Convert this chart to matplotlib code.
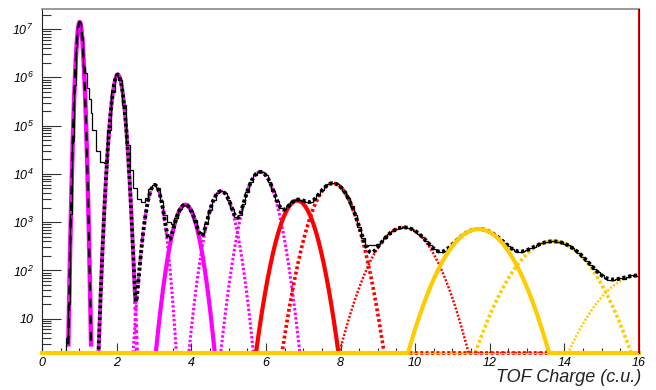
import numpy as np
import matplotlib.pyplot as plt
from matplotlib.ticker import LogLocator, FixedLocator, MultipleLocator, NullFormatter

plt.rcParams['font.family'] = 'Liberation Sans'
plt.rcParams['font.style'] = 'italic'
plt.rcParams['mathtext.fontset'] = 'custom'
plt.rcParams['mathtext.rm'] = 'Liberation Sans:italic'
plt.rcParams['mathtext.it'] = 'Liberation Sans:italic'

# Gaussian fit parameters per charge peak
peak_z = [1, 2, 3, 4, 5, 6, 7, 8, 10, 12, 14, 16]
peak_mean = [1.01, 2.03, 3.02, 3.84, 4.80, 5.85, 6.84, 7.80, 9.70, 11.70, 13.70, 16.00]
peak_amp = [1.4e7, 1.15e6, 5.9e3, 2.3e3, 4.4e3, 1.1e4, 2.8e3, 6.4e3, 780, 720, 400, 78]
peak_sigma = [0.055, 0.10, 0.145, 0.21, 0.22, 0.255, 0.29, 0.34, 0.50, 0.55, 0.64, 0.70]

# histogram: fine bins (0.05) over the Z=1 peak, then 0.1 up to 16
hist_edges = list(np.round(np.arange(0.55, 1.35, 0.05), 3)) + \
    list(np.round(np.arange(1.35, 16.06, 0.1), 3))
hist_counts = [
    1, 1, 4, 20, 1500, 4.9e4, 6.9e5, 4.3e6,                                # 0.575 - 0.925
    1.15e7, 1.35e7, 7e6, 1.6e6, 1.2e6, 6e5, 3.5e5, 1.8e5,                  # 0.975 - 1.325
    8e4, 3e4,                                                              # 1.4 - 1.5
    1.8e4, 1.7e4, 8e4, 4.9e5, 1.1e6, 9e5, 2.7e5, 4e4, 1.2e4, 5e3,         # 1.6 - 2.5
    3e3, 2.6e3, 3.2e3, 4.8e3, 5.9e3, 5.1e3, 2.7e3, 1.4e3, 1.0e3, 900,     # 2.6 - 3.5
    1.2e3, 1.84e3, 2.25e3, 2.2e3, 1.73e3, 1.1e3, 640, 550, 910, 1.75e3,   # 3.6 - 4.5
    2.9e3, 3.97e3, 4.4e3, 3.98e3, 2.94e3, 1.88e3, 1.3e3, 1.4e3, 2.4e3, 4.3e3,  # 4.6 - 5.5
    6.8e3, 9.3e3, 1.08e4, 1.08e4, 9.3e3, 6.9e3, 4.5e3, 2.8e3, 2.0e3, 1.85e3,   # 5.6 - 6.5
    2.15e3, 2.57e3, 2.86e3, 2.93e3, 2.8e3, 2.65e3, 2.64e3, 2.96e3, 3.6e3, 4.55e3,  # 6.6 - 7.5
    5.5e3, 6.15e3, 6.4e3, 6.1e3, 5.4e3, 4.35e3, 3.2e3, 2.19e3, 1.38e3, 812,    # 7.6 - 8.5
    480, 320, 330, 340, 350, 400, 473, 566, 651, 720,                      # 8.6 - 9.5
    764, 780, 766, 723, 657, 577, 490, 408, 337, 284,                      # 9.6 - 10.5
    251, 245, 258, 294, 347, 413, 486, 558, 622, 675,                      # 10.6 - 11.5
    710, 723, 713, 682, 632, 571, 503, 435, 371, 319,                      # 11.6 - 12.5
    280, 257, 246, 250, 264, 286, 312, 340, 364, 384,                      # 12.6 - 13.5
    397, 401, 396, 382, 359, 331, 298, 262, 226, 191,                      # 13.6 - 14.5
    160, 132, 109, 92, 79, 70, 64, 62, 66, 70,                             # 14.6 - 15.5
    68, 74, 80, 76, 78,                                                    # 15.6 - 16.0
]

ymin, ymax = 1.95, 2.6e7
magenta = '#ff00ff'
red = '#ff0000'
gold = '#ffcc00'
dot = (0, (0.8, 0.7))

fig = plt.figure(figsize=(6.56, 3.9), dpi=100)
ax = fig.add_axes([42 / 656, 1 - 353 / 390, (639 - 42) / 656, (353 - 9) / 390])

xs = np.linspace(0, 16, 3201)


def gauss(i):
    return peak_amp[i] * np.exp(-0.5 * ((xs - peak_mean[i]) / peak_sigma[i]) ** 2)


def masked(y):
    y = y.copy()
    y[y < ymin] = np.nan
    return y


def clipped(y):
    return np.maximum(y, ymin)


# magenta components (Z = 1..6)
ax.plot(xs, masked(gauss(0)), color=magenta, lw=3.2, zorder=2, clip_on=False)
ax.plot(xs, masked(gauss(1)), color=magenta, lw=2.8, ls=dot, zorder=2)
ax.plot(xs, masked(gauss(2)), color=magenta, lw=2.2, ls=dot, zorder=2)
ax.plot(xs, masked(gauss(3)), color=magenta, lw=3.0, zorder=2)
ax.plot(xs, masked(gauss(4)), color=magenta, lw=2.2, ls=dot, zorder=2)
ax.plot(xs, masked(gauss(5)), color=magenta, lw=2.2, ls=dot, zorder=2)

# red solid (Z = 7)
ax.plot(xs, masked(gauss(6)), color=red, lw=3.0, zorder=2)

# gold dotted (Z = 14, 16)
ax.plot(xs, clipped(gauss(10)), color=gold, lw=2.6, ls=dot, zorder=2, clip_on=False)
ax.plot(xs, clipped(gauss(11)), color=gold, lw=1.8, ls=dot, zorder=2, clip_on=False)

# red dotted (Z = 8, 10)
ax.plot(xs, clipped(gauss(7)), color=red, lw=2.6, ls=dot, zorder=2.1, clip_on=False)
ax.plot(xs, clipped(gauss(8)), color=red, lw=1.8, ls=dot, zorder=2.1, clip_on=False)

# data histogram
ax.stairs(hist_counts, hist_edges, color='black', lw=0.9, zorder=3, baseline=ymin)

# total fit
total = sum(gauss(i) for i in range(1, len(peak_z)))
sel = xs >= 1.4
ax.plot(xs[sel], masked(total)[sel], color='black', lw=2.8,
        ls=(0.7, (0.8, 0.7)), zorder=4)
ax.plot(xs, masked(gauss(0)), color='black', lw=1.6, ls=(0, (4, 3.5)), zorder=4)

# gold solid (Z = 12), lies along the bottom where it is below range
ax.plot(xs, clipped(gauss(9)), color=gold, lw=3.0, zorder=5, clip_on=False)

ax.axvline(16, color=red, lw=2.2, zorder=6)

ax.set_yscale('log')
ax.set_xlim(0, 16)
ax.set_ylim(ymin, ymax)

ax.xaxis.set_major_locator(MultipleLocator(2))
ax.xaxis.set_minor_locator(MultipleLocator(0.5))
ax.yaxis.set_major_locator(FixedLocator([10, 1e2, 1e3, 1e4, 1e5, 1e6, 1e7]))
ax.yaxis.set_minor_locator(LogLocator(base=10, subs=np.arange(2, 10)))
ax.yaxis.set_minor_formatter(NullFormatter())
ax.set_yticklabels(['10'] + [r'$\mathregular{10^{%d}}$' % k for k in range(2, 8)])
ax.set_xticks(range(0, 17, 2))
ax.set_xticklabels([str(v) for v in range(0, 17, 2)])

ax.tick_params(axis='x', which='major', direction='in', length=7, width=0.8,
               labelsize=9, pad=3, color='#333333')
ax.tick_params(axis='x', which='minor', direction='in', length=3.5, width=0.8,
               color='#333333')
ax.tick_params(axis='y', which='major', direction='in', length=14, width=0.8,
               labelsize=9, pad=6, color='#333333')
ax.tick_params(axis='y', which='minor', direction='in', length=6.5, width=0.8,
               color='#333333')
ax.tick_params(top=False, right=False)

ax.spines['top'].set_color('#888888')
ax.spines['top'].set_linewidth(1.2)
ax.spines['right'].set_color('#330000')
ax.spines['right'].set_linewidth(0.8)
ax.spines['right'].set_zorder(7)
ax.spines['left'].set_color('#222222')
ax.spines['bottom'].set_color(gold)

fig.text(641 / 656, 1 - 377 / 390, 'TOF Charge (c.u.)', ha='right', va='center',
         fontsize=13, style='italic', color='#222222')

fig.savefig('out.png', dpi=100)
